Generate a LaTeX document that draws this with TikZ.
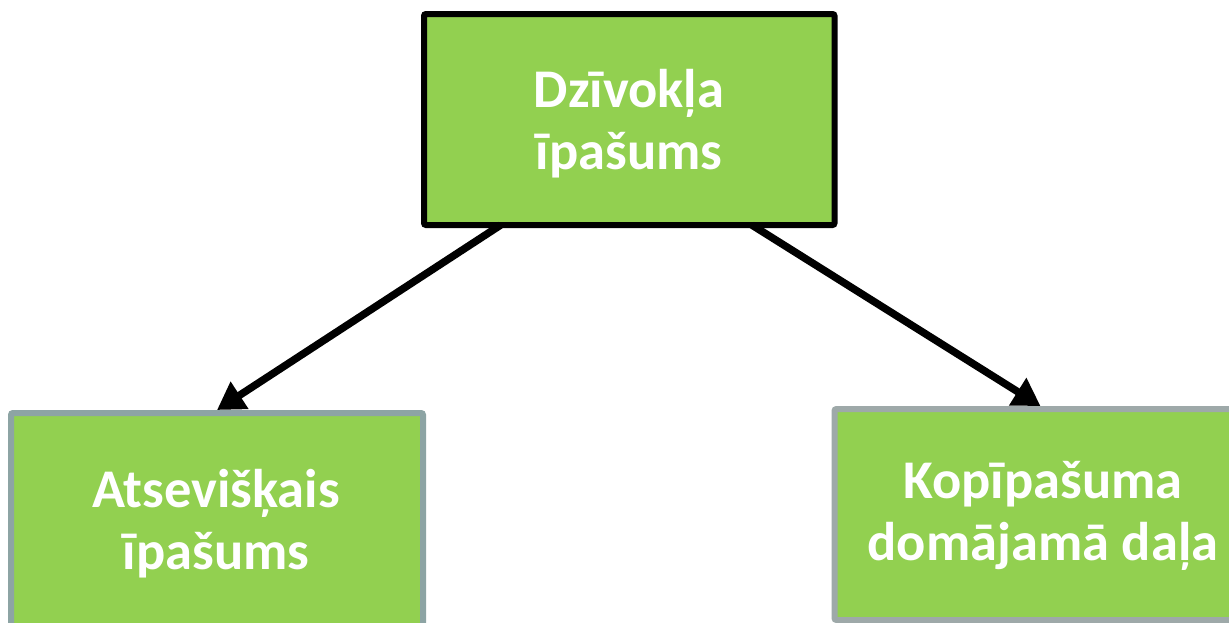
\documentclass[tikz,border=0pt]{standalone}
\usepackage{fontspec}
\setmainfont{Carlito}
\usetikzlibrary{arrows.meta}
\definecolor{boxgreen}{HTML}{92D050}
\definecolor{bordgrayA}{HTML}{8DA4A4}
\definecolor{bordgrayB}{HTML}{9EA9A9}
\tikzset{
  greenbox/.style={rectangle, fill=boxgreen, line width=6pt, rounded corners=2pt,
    minimum width=410.5pt, minimum height=211pt, inner sep=0pt},
  lbl/.style={text=white, font=\fontsize{54.5}{62}\selectfont\bfseries, align=center, inner sep=0pt},
  conn/.style={line width=7.5pt, -{Triangle[length=27pt,width=31pt]}, shorten <=2pt},
}
\begin{document}
\begin{tikzpicture}[x=1pt,y=-1pt]
\clip (0,0) rectangle (1229,622);
\fill[white] (0,0) rectangle (1229,622);
\node[greenbox, draw=black] (top) at (629.25,119.5) {};
\node[greenbox, draw=bordgrayA, minimum width=412pt, minimum height=215pt] (left) at (217,520.5) {};
\node[greenbox, draw=bordgrayB, minimum width=412pt] (right) at (1040.5,514.5) {};
\node[lbl] (toplbl) at (629,124) {Dzīvokļa\\īpašums};
\node[lbl] (leftlbl) at (216,524) {Atsevišķais\\īpašums};
\node[lbl] (rightlbl) at (1043,516) {Kopīpašuma\\domājamā daļa};
\draw[conn] ([xshift=-127pt,yshift=4pt]top.south) -- (left.north);
\draw[conn] ([xshift=121pt,yshift=4pt]top.south) -- (right.north);
\end{tikzpicture}
\end{document}
